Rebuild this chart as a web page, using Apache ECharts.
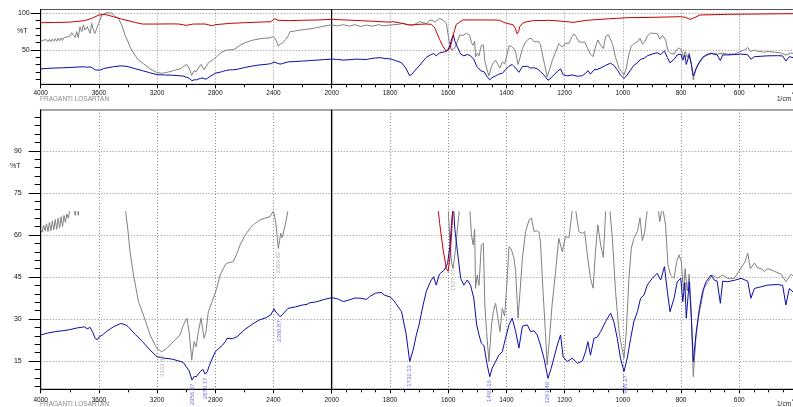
<!DOCTYPE html>
<html><head><meta charset="utf-8">
<script src="https://cdn.jsdelivr.net/npm/echarts@6/dist/echarts.min.js"></script>
<style>html,body{margin:0;padding:0;background:#fff}#c{width:793px;height:407px}</style>
</head><body><div id="c"></div>
<script>
// wavenumber (1/cm), %T
const blue = [[4000,24.3],[3950,25.0],[3900,25.5],[3850,25.8],[3800,26.2],[3750,26.8],[3700,27.2],[3680,26.5],[3660,27.0],[3640,25.0],[3625,23.0],[3610,22.6],[3600,23.5],[3590,22.8],[3570,24.5],[3550,25.5],[3500,27.2],[3450,28.4],[3420,28.0],[3400,27.3],[3350,24.5],[3300,21.9],[3250,19.0],[3200,16.5],[3150,16.0],[3100,15.7],[3050,15.0],[3020,14.5],[3000,13.0],[2980,11.5],[2960,8.2],[2945,9.5],[2930,9.4],[2915,10.5],[2900,11.4],[2885,12.0],[2870,10.3],[2855,11.2],[2840,13.5],[2830,14.8],[2800,18.3],[2775,19.5],[2750,20.7],[2730,22.0],[2720,23.1],[2700,23.0],[2680,23.0],[2650,23.7],[2600,26.1],[2550,28.0],[2500,29.6],[2450,30.5],[2420,31.4],[2395,33.6],[2385,32.5],[2370,31.8],[2355,30.8],[2340,31.5],[2330,32.0],[2300,33.8],[2250,34.3],[2200,35.0],[2170,35.2],[2150,35.8],[2120,36.0],[2100,36.2],[2050,37.0],[2000,37.6],[1980,37.2],[1960,36.2],[1940,36.8],[1920,37.5],[1900,37.4],[1880,37.0],[1870,38.0],[1850,39.2],[1830,39.5],[1820,38.6],[1810,38.2],[1800,37.9],[1790,37.0],[1780,35.6],[1760,32.6],[1745,25.0],[1732,14.8],[1720,19.0],[1710,24.0],[1700,27.9],[1686,35.0],[1675,39.9],[1660,43.5],[1650,45.1],[1641,42.1],[1630,46.0],[1613,47.5],[1602,49.8],[1594,55.8],[1587,66.0],[1582,70.4],[1577,62.0],[1568,54.0],[1557,44.5],[1546,42.1],[1534,43.9],[1523,42.0],[1512,37.5],[1502,27.9],[1494,24.3],[1486,21.4],[1477,20.5],[1466,13.6],[1457,9.4],[1449,12.4],[1437,14.8],[1426,17.1],[1414,18.3],[1403,23.1],[1391,27.9],[1380,30.3],[1368,25.5],[1357,19.6],[1345,27.4],[1328,27.9],[1317,25.5],[1305,25.8],[1294,24.3],[1283,20.7],[1271,16.0],[1257,8.8],[1246,12.4],[1237,16.0],[1225,20.7],[1214,24.3],[1205,16.5],[1191,14.8],[1174,16.0],[1156,14.2],[1139,15.0],[1128,18.3],[1120,21.9],[1111,17.1],[1099,23.1],[1088,23.5],[1076,25.5],[1059,29.1],[1042,32.1],[1031,29.1],[1019,23.1],[1008,16.0],[996,11.2],[985,16.0],[973,23.1],[962,29.1],[950,32.6],[939,37.4],[927,38.6],[916,42.1],[899,44.5],[882,46.3],[870,43.9],[857,48.7],[847,39.8],[838,32.6],[824,37.4],[813,43.3],[801,44.5],[794,36.2],[787,43.0],[782,30.3],[772,43.3],[764,29.1],[758,14.8],[749,24.3],[737,33.8],[726,39.8],[714,43.3],[697,45.7],[686,43.9],[676,43.5],[665,35.6],[657,43.5],[640,43.3],[617,43.8],[594,44.5],[571,43.5],[560,37.4],[548,40.9],[525,41.5],[502,42.1],[468,42.3],[451,42.0],[440,35.0],[428,40.9],[411,39.2],[400,39.5]];

const gray = [[4000,62.0],[3990,61.0],[3980,63.5],[3970,61.5],[3960,64.0],[3950,61.2],[3940,64.5],[3930,61.5],[3920,65.0],[3910,61.8],[3900,65.5],[3890,62.0],[3880,66.0],[3870,62.5],[3860,66.5],[3850,63.0],[3840,67.0],[3830,64.5],[3820,67.5],[3810,66.0],[3799,69.1],[3787,73.6],[3776,70.4],[3762,67.0],[3753,75.0],[3742,67.0],[3730,81.8],[3718,75.0],[3707,84.0],[3696,77.2],[3680,81.8],[3661,72.7],[3650,86.4],[3638,77.2],[3627,72.7],[3615,79.5],[3604,77.2],[3592,90.9],[3581,97.7],[3570,100.0],[3546,101.0],[3530,100.5],[3512,100.0],[3489,95.5],[3466,93.2],[3443,84.0],[3420,70.0],[3400,61.4],[3386,54.0],[3363,46.0],[3328,36.2],[3294,31.4],[3248,24.3],[3202,19.5],[3168,18.3],[3134,19.5],[3088,21.9],[3042,24.3],[3019,27.9],[2996,30.3],[2980,25.5],[2962,15.4],[2946,21.9],[2932,20.1],[2916,25.5],[2898,30.3],[2877,23.1],[2864,25.5],[2848,32.6],[2813,37.4],[2790,41.0],[2767,45.7],[2740,48.5],[2722,49.9],[2700,50.2],[2676,50.5],[2650,53.5],[2630,56.4],[2600,59.5],[2561,62.4],[2530,64.0],[2492,65.4],[2460,66.0],[2424,66.5],[2401,68.5],[2390,66.0],[2383,63.6],[2367,55.2],[2358,58.0],[2351,60.6],[2340,59.0],[2332,59.4],[2316,64.4],[2298,69.5],[2287,75.0],[2250,76.0],[2218,77.2],[2180,78.0],[2127,79.5],[2080,81.5],[2040,83.0],[2012,84.0],[2000,84.0],[1980,83.0],[1960,84.5],[1940,82.5],[1920,84.5],[1900,82.0],[1880,84.0],[1860,82.5],[1840,84.5],[1820,83.0],[1800,84.0],[1770,85.0],[1755,86.3],[1740,84.5],[1720,84.0],[1697,88.6],[1675,86.0],[1663,90.9],[1652,90.0],[1645,88.0],[1629,93.2],[1617,90.5],[1612,89.0],[1606,86.0],[1600,70.4],[1594,56.8],[1588,50.0],[1583,48.0],[1577,53.0],[1572,58.0],[1560,70.4],[1549,70.0],[1537,72.7],[1526,70.0],[1520,60.0],[1514,56.4],[1509,62.0],[1506,41.0],[1500,45.7],[1494,42.0],[1486,56.4],[1479,57.0],[1474,35.0],[1468,25.5],[1460,14.8],[1451,27.9],[1445,32.6],[1437,35.6],[1429,30.3],[1422,25.5],[1414,33.8],[1406,31.0],[1397,44.5],[1391,55.8],[1383,55.0],[1374,51.7],[1368,46.9],[1360,30.3],[1353,39.8],[1345,51.7],[1334,61.2],[1322,65.4],[1314,66.0],[1305,61.2],[1296,61.5],[1288,61.0],[1283,57.6],[1274,39.8],[1266,25.5],[1260,13.6],[1252,23.1],[1243,35.0],[1231,46.9],[1220,58.8],[1208,54.0],[1197,59.4],[1185,59.0],[1174,68.5],[1168,72.0],[1162,69.0],[1151,61.2],[1139,60.5],[1131,61.2],[1122,52.9],[1111,44.5],[1102,41.0],[1094,54.0],[1086,63.6],[1076,56.4],[1067,52.0],[1059,68.5],[1050,71.0],[1045,69.5],[1036,58.8],[1025,39.8],[1013,25.5],[1005,20.7],[996,16.0],[988,25.5],[979,44.5],[971,55.2],[962,58.8],[950,61.2],[941,66.1],[933,58.0],[925,61.0],[916,69.0],[905,73.0],[899,72.0],[882,72.5],[873,64.8],[864,70.0],[853,63.6],[845,49.3],[836,45.7],[824,44.5],[815,50.5],[807,52.9],[799,50.5],[792,40.0],[786,48.0],[779,40.0],[772,46.0],[765,33.0],[758,9.4],[749,23.1],[741,30.3],[732,35.0],[721,41.0],[709,43.0],[692,45.7],[676,44.5],[657,45.7],[640,44.5],[617,44.5],[594,48.2],[580,50.5],[571,53.5],[562,48.0],[548,50.0],[537,48.2],[525,48.0],[514,47.0],[502,48.0],[479,47.0],[456,46.0],[440,43.3],[422,46.0],[411,45.0],[400,44.0]];

const red = [[4000,87.2],[3900,87.5],[3800,88.0],[3700,90.0],[3650,93.0],[3600,97.7],[3560,98.6],[3500,95.4],[3450,92.5],[3400,90.0],[3350,87.5],[3300,85.4],[3200,85.4],[3100,85.6],[3050,85.4],[3000,83.6],[2950,85.4],[2870,85.4],[2820,83.0],[2800,84.5],[2700,86.3],[2600,87.2],[2500,88.0],[2420,88.6],[2390,92.7],[2370,90.5],[2360,89.8],[2300,90.0],[2200,90.5],[2100,90.9],[2000,91.8],[1900,90.0],[1800,88.0],[1789,88.6],[1760,86.5],[1732,84.0],[1700,85.0],[1675,85.4],[1658,85.0],[1646,80.0],[1629,64.0],[1617,54.5],[1606,48.0],[1600,47.0],[1594,52.0],[1589,59.0],[1583,70.4],[1577,78.0],[1572,85.0],[1560,88.0],[1549,91.0],[1500,91.0],[1446,90.9],[1423,90.5],[1411,88.0],[1400,86.4],[1394,84.0],[1377,84.5],[1370,80.0],[1363,72.0],[1358,75.0],[1354,82.0],[1345,86.0],[1336,88.0],[1308,90.0],[1257,90.5],[1216,89.5],[1170,87.7],[1124,90.5],[1050,92.5],[986,94.0],[900,94.5],[803,95.4],[785,94.5],[769,91.8],[755,94.0],[735,97.7],[643,98.6],[500,99.2],[411,99.5],[400,98.5]];

const grayPeaks = [[3163,18.3,'3163.48'],[2367,55.2,'2359.82'],[1583,49.0,'1577.77']];
const bluePeaks = [[2958,8.2,'2956.87'],[2870,10.3,'2870.17'],[2360,30.8,'2360.87'],[1732,14.8,'1732.13'],[1459,9.4,'1460.16'],[1260,8.8,'1261.49'],[993,11.2,'995.27']];

const topMajor = [50, 100];
const topMinor = [10, 20, 30, 40, 50, 60, 70, 80, 90, 100];
const botMajor = [15, 30, 45, 60, 75, 90];
const botMinor = [6,9,12,15,18,21,24,27,30,33,36,39,42,45,48,51,54,57,60,63,66,69,72,75,78,81,84,87,90,93,96,99,102];

const hi = d => d.filter(p => p[0] >= 2000);
const lo = d => d.filter(p => p[0] <= 2000);

const FONT = 'Liberation Sans, Arial, sans-serif';
const dotted = {show: true, lineStyle: {color: '#8c8c8c', type: [1, 2], width: 1}};
const plain = v => String(v);

const L = 40.7, M = 331.7, WL = 291, WR = 465.8;
const gb = {outerBoundsMode: 'none', containLabel: false};
const grids = [
  Object.assign({left: L, top: 9.5, width: WL, height: 74.8, show: true, borderColor: '#555', borderWidth: 1}, gb),
  Object.assign({left: M, top: 9.5, width: WR, height: 74.8, show: true, borderColor: '#555', borderWidth: 1}, gb),
  Object.assign({left: L, top: 110, width: WL, height: 279.3, show: true, borderColor: '#8a8a8a', borderWidth: 1.5}, gb),
  Object.assign({left: M, top: 110, width: WR, height: 279.3, show: true, borderColor: '#8a8a8a', borderWidth: 1.5}, gb),
  Object.assign({left: L, top: 211.7, width: WL, height: 177.6}, gb),
  Object.assign({left: M, top: 211.7, width: WR, height: 177.6}, gb)
];

function xAx(gi, high, visible, margin) {
  return {
    type: 'value', gridIndex: gi, inverse: true, show: visible,
    min: high ? 2000 : 400, max: high ? 4000 : 2000, interval: high ? 400 : 200,
    axisLine: {show: true, onZero: false, lineStyle: {color: '#000', width: 1}},
    axisTick: {show: true, length: 4, lineStyle: {color: '#000'}},
    minorTick: {show: true, splitNumber: high ? 2 : 4, length: 3, lineStyle: {color: '#000'}},
    axisLabel: {show: true, margin: margin, fontSize: 6.5, color: '#111', fontFamily: FONT,
      formatter: plain, showMinLabel: !high, showMaxLabel: true, hideOverlap: false},
    splitLine: dotted, minorSplitLine: {show: false}
  };
}
function yMajor(gi, mn, mx, major, len, margin) {
  return {
    type: 'value', gridIndex: gi, min: mn, max: mx, position: 'left',
    axisLine: {show: true, onZero: false, lineStyle: {color: '#000', width: 1}},
    axisTick: {show: true, length: len, customValues: major, lineStyle: {color: '#000'}},
    axisLabel: {show: true, customValues: major, margin: margin, fontSize: 7, color: '#111', fontFamily: FONT, formatter: plain},
    splitLine: dotted
  };
}
function yMinor(gi, mn, mx, minor, len) {
  return {
    type: 'value', gridIndex: gi, min: mn, max: mx, position: 'left', offset: 0,
    axisLine: {show: true, onZero: false, lineStyle: {color: '#000', width: 1}},
    axisTick: {show: true, length: len, customValues: minor, lineStyle: {color: '#000'}},
    axisLabel: {show: false}, splitLine: {show: false}
  };
}
function yDivider(gi, mn, mx, major) {
  return {
    type: 'value', gridIndex: gi, min: mn, max: mx, position: 'left',
    axisLine: {show: true, onZero: false, lineStyle: {color: '#000', width: 1}},
    axisTick: {show: false, customValues: major},
    axisLabel: {show: false}, splitLine: dotted
  };
}
function yHidden(gi, mn, mx) {
  return {type: 'value', gridIndex: gi, min: mn, max: mx, show: false, splitLine: {show: false}};
}

const xAxes = [xAx(0, true, true, 5), xAx(1, false, true, 5), xAx(2, true, true, 7), xAx(3, false, true, 7),
  xAx(4, true, false, 7), xAx(5, false, false, 7)];
const yAxes = [
  yMajor(0, 3.3, 105.2, topMajor, 10, 11), yMinor(0, 3.3, 105.2, topMinor, 5),
  yDivider(1, 3.3, 105.2, topMajor),
  yMajor(2, 4.9, 104.6, botMajor, 12, 19), yMinor(2, 4.9, 104.6, botMinor, 6),
  yDivider(3, 4.9, 104.6, botMajor),
  yHidden(4, 4.9, 68.3), yHidden(5, 4.9, 68.3)
];

const COLORS = {gray: '#808080', blue: '#0c0ca8', red: '#c80000'};
const spectra = [['gray', gray], ['blue', blue], ['red', red]];
const placements = [[0, 0, hi], [1, 2, lo], [4, 6, hi], [5, 7, lo]];
const series = [];
placements.forEach(([xi, yi, f]) => {
  spectra.forEach(([name, d]) => {
    series.push({type: 'line', name: name, xAxisIndex: xi, yAxisIndex: yi, data: f(d),
      showSymbol: false, symbol: 'none', clip: true, silent: true,
      lineStyle: {color: COLORS[name], width: 1}});
  });
});
function peakSeries(peaks, color, xi, yi, f) {
  return {
    type: 'scatter', xAxisIndex: xi, yAxisIndex: yi, symbolSize: 1, silent: true, z: 5,
    itemStyle: {color: 'rgba(0,0,0,0)'},
    data: f(peaks).map(p => ({value: [p[0], p[1]], name: p[2]})),
    label: {show: true, formatter: p => p.name, rotate: 90, position: 'bottom', distance: 3,
      align: 'right', verticalAlign: 'middle', fontSize: 6, color: color, fontFamily: FONT}
  };
}
const below = d => d.filter(p => p[0] < 2000);
series.push(peakSeries(grayPeaks, '#9a9a9a', 4, 6, hi));
series.push(peakSeries(grayPeaks, '#9a9a9a', 5, 7, below));
series.push(peakSeries(bluePeaks, '#4646d8', 4, 6, hi));
series.push(peakSeries(bluePeaks, '#4646d8', 5, 7, below));

const txt = (t, x, y, color, size, align) => ({type: 'text', x: x, y: y, silent: true,
  style: {text: t, fill: color, font: size + 'px ' + FONT, textAlign: align || 'left', textVerticalAlign: 'middle'}});

const chart = echarts.init(document.getElementById('c'), null, {renderer: 'canvas'});
chart.setOption({
  animation: false, backgroundColor: '#fff',
  grid: grids, xAxis: xAxes, yAxis: yAxes, series: series,
  graphic: [
    txt('%T', 17, 31, '#222', 7), txt('%T', 10, 166, '#222', 7),
    txt('FRAGANTI LOSARTAN', 40, 99, '#8a8a8a', 6.5), txt('FRAGANTI LOSARTAN', 40, 404.5, '#8a8a8a', 6.5),
    txt('1/cm', 777, 99, '#222', 6.5), txt('1/cm', 777, 404.5, '#222', 6.5)
  ]
});
</script></body></html>
